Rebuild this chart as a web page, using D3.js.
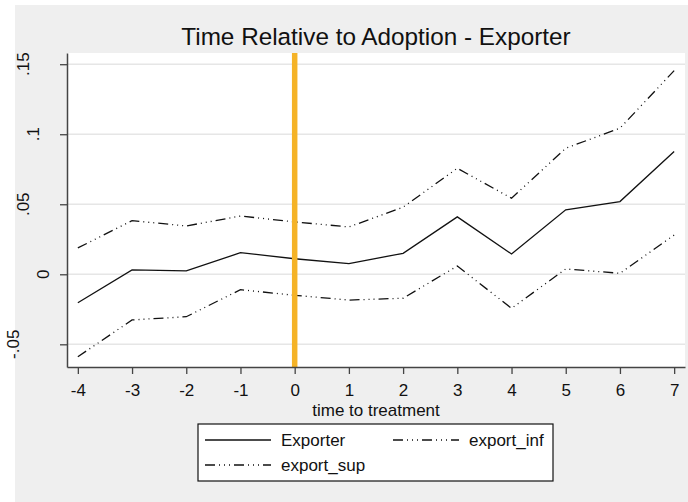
<!DOCTYPE html>
<html>
<head>
<meta charset="utf-8">
<script src="https://cdn.jsdelivr.net/npm/d3@7"></script>
<style>
  body { margin: 0; background: #ffffff; }
  svg { display: block; font-family: "Liberation Sans", Arial, sans-serif; }
</style>
</head>
<body>
<div id="container"></div>
<script>
/* DATA */
const periods = [-4, -3, -2, -1, 0, 1, 2, 3, 4, 5, 6, 7];
const exporter  = [-0.0203, 0.0031, 0.0024, 0.0154, 0.0111, 0.0076, 0.0150, 0.0410, 0.0145, 0.0460, 0.0519, 0.0876];
const exportInf = [-0.0589, -0.0326, -0.0303, -0.0110, -0.0150, -0.0184, -0.0171, 0.0059, -0.0243, 0.0038, 0.0007, 0.0280];
const exportSup = [0.0188, 0.0383, 0.0345, 0.0416, 0.0374, 0.0338, 0.0479, 0.0757, 0.0543, 0.0900, 0.1043, 0.1454];
const yTicks = [-0.05, 0, 0.05, 0.1, 0.15];
const yTickLabels = ["-.05", "0", ".05", ".1", ".15"];
const seriesNames = ["Exporter", "export_inf", "export_sup"];

/* CONSTANTS */
const width = 688, height = 502;
const plot = {left: 67, right: 685, top: 53, bottom: 367};
const dashPattern = "10,4,1,4,1,4,1,4";

const svg = d3.select("#container").append("svg")
  .attr("width", width)
  .attr("height", height);

// outer background
svg.append("rect")
  .attr("x", 15).attr("y", 5)
  .attr("width", width - 15).attr("height", height - 5)
  .attr("fill", "#efefef");

// plot region
svg.append("rect")
  .attr("x", plot.left).attr("y", plot.top)
  .attr("width", plot.right - plot.left).attr("height", plot.bottom - plot.top)
  .attr("fill", "#ffffff");

// SCALES
const xScale = d3.scaleLinear()
  .domain([-4.2, 7.2])
  .range([plot.left, plot.right]);

const yScale = d3.scaleLinear()
  .domain([-0.0662, 0.158])
  .range([plot.bottom, plot.top]);

// gridlines
svg.append("g")
  .selectAll("line")
  .data(yTicks)
  .join("line")
  .attr("x1", plot.left).attr("x2", plot.right)
  .attr("y1", d => yScale(d)).attr("y2", d => yScale(d))
  .attr("stroke", "#e6e6e6")
  .attr("stroke-width", 1.5);

// LINES
const line = d3.line()
  .x((d, i) => xScale(periods[i]))
  .y(d => yScale(d));

const series = [
  {name: "Exporter", values: exporter, dash: null},
  {name: "export_inf", values: exportInf, dash: dashPattern},
  {name: "export_sup", values: exportSup, dash: dashPattern}
];

svg.append("g")
  .selectAll("path")
  .data(series)
  .join("path")
  .attr("d", d => line(d.values))
  .attr("fill", "none")
  .attr("stroke", "#111")
  .attr("stroke-width", 1.3)
  .attr("stroke-dasharray", d => d.dash);

// vertical reference line at 0
svg.append("line")
  .attr("x1", xScale(0)).attr("x2", xScale(0))
  .attr("y1", plot.top).attr("y2", plot.bottom)
  .attr("stroke", "#f5b327")
  .attr("stroke-width", 5.5);

// AXES
const xAxis = d3.axisBottom(xScale)
  .tickValues(periods)
  .tickFormat(d => String(d))
  .tickSize(7)
  .tickSizeOuter(0)
  .tickPadding(10);

const yAxis = d3.axisLeft(yScale)
  .tickValues(yTicks)
  .tickFormat("")
  .tickSize(7)
  .tickSizeOuter(0);

const gx = svg.append("g")
  .attr("transform", `translate(0,${plot.bottom})`)
  .call(xAxis);
gx.selectAll("text").attr("font-size", 17).attr("fill", "#111").attr("font-family", null);

const gy = svg.append("g")
  .attr("transform", `translate(${plot.left},0)`)
  .call(yAxis);

[gx, gy].forEach(g => {
  g.select(".domain").attr("stroke", "#444").attr("stroke-width", 1.5);
  g.selectAll(".tick line").attr("stroke", "#444").attr("stroke-width", 1.3);
});

// rotated y tick labels (shifted by label length, like the original)
svg.append("g")
  .selectAll("text")
  .data(yTicks)
  .join("text")
  .attr("transform", (d, i) => `translate(${59 - 10 * yTickLabels[i].length},${yScale(d)}) rotate(-90)`)
  .attr("text-anchor", "middle")
  .attr("font-size", 17)
  .attr("fill", "#111")
  .text((d, i) => yTickLabels[i]);

// titles
svg.append("text")
  .attr("x", (plot.left + plot.right) / 2)
  .attr("y", 45)
  .attr("text-anchor", "middle")
  .attr("font-size", 24.3)
  .attr("fill", "#111")
  .text("Time Relative to Adoption - Exporter");

svg.append("text")
  .attr("x", (plot.left + plot.right) / 2)
  .attr("y", 416)
  .attr("text-anchor", "middle")
  .attr("font-size", 17)
  .attr("fill", "#111")
  .text("time to treatment");

// LEGEND
const legend = svg.append("g");
legend.append("rect")
  .attr("x", 198).attr("y", 424)
  .attr("width", 355).attr("height", 57)
  .attr("fill", "#ffffff")
  .attr("stroke", "#111")
  .attr("stroke-width", 1.2);

const legendPos = [
  {x: 205, y: 440},
  {x: 393, y: 440},
  {x: 205, y: 465}
];

const items = legend.selectAll("g.item")
  .data(series)
  .join("g")
  .attr("class", "item")
  .attr("transform", (d, i) => `translate(${legendPos[i].x},${legendPos[i].y})`);

items.append("line")
  .attr("x1", 0).attr("x2", 66)
  .attr("stroke", "#111")
  .attr("stroke-width", 1.3)
  .attr("stroke-dasharray", d => d.dash);

items.append("text")
  .attr("x", 76)
  .attr("y", 6)
  .attr("font-size", 17)
  .attr("fill", "#111")
  .text((d, i) => seriesNames[i]);
</script>
</body>
</html>
